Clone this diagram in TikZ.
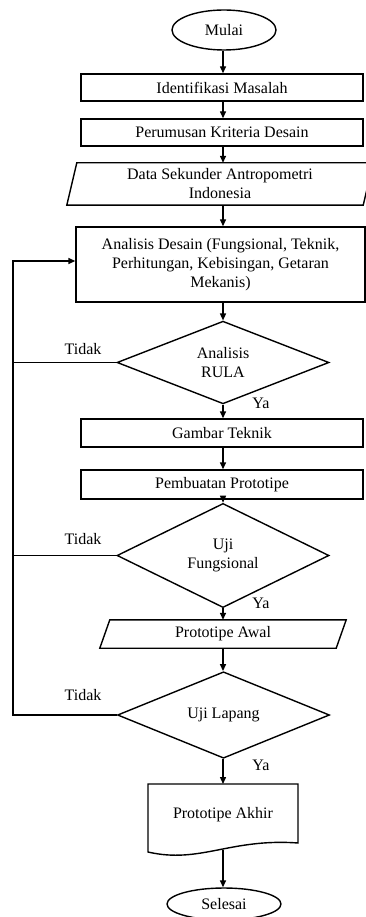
\documentclass[tikz,border=0pt]{standalone}
\usepackage{fontspec}
\setmainfont{Liberation Serif}
\usetikzlibrary{shapes.geometric,arrows.meta}
\begin{document}
\begin{tikzpicture}[x=1pt,y=-1pt,
  every node/.style={font=\fontsize{16}{19}\selectfont, inner sep=0pt},
  ln/.style={line width=1.4pt},
  arr/.style={ln,-{Triangle[length=7pt,width=6pt]}},
  box/.style={draw,line width=1.4pt,rectangle,minimum width=282pt,minimum height=27pt},
  dec/.style={draw,line width=1.4pt,diamond,minimum width=212pt,minimum height=66pt,align=center},
  term/.style={draw,line width=1.4pt,ellipse,minimum width=104pt,minimum height=40pt},
  para/.style={minimum height=28pt,align=center}
]
\useasboundingbox (0,0) rectangle (366,917);
\fill[white] (0,0) rectangle (366,917);

\node[term] (mulai) at (224,30) {Mulai};
\node[box] (ident) at (222,87.5) {Identifikasi Masalah};
\node[box] (rumus) at (222,132.5) {Perumusan Kriteria Desain};
\node[para,minimum width=296pt,minimum height=42pt] (data) at (220,184) {Data Sekunder Antropometri\\Indonesia};
\draw[ln] ([xshift=5pt]data.north west) -- ([xshift=5pt]data.north east) -- ([xshift=-5pt]data.south east) -- ([xshift=-5pt]data.south west) -- cycle;
\node[draw,line width=1.4pt,minimum width=289pt,minimum height=75pt,align=center] (anal) at (220.5,264.5) {Analisis Desain (Fungsional, Teknik,\\Perhitungan, Kebisingan, Getaran\\Mekanis)};
\node[dec] (rula) at (223,362.5) {Analisis\\RULA};
\node[box,minimum height=28pt] (gambar) at (222,433) {Gambar Teknik};
\node[box,minimum height=29pt] (buat) at (222,484.5) {Pembuatan Prototipe};
\node[dec] (fung) at (223,555.5) {Uji\\Fungsional};
\node[para,minimum width=236pt] (awal) at (223,634) {Prototipe Awal};
\draw[ln] ([xshift=5pt]awal.north west) -- ([xshift=5pt]awal.north east) -- ([xshift=-5pt]awal.south east) -- ([xshift=-5pt]awal.south west) -- cycle;
\node[dec,minimum height=70pt] (lapang) at (223.5,715) {Uji Lapang};
\node (akhir) at (223,815) {Prototipe Akhir};
\draw[ln] (148,784) -- (298,784) -- (298,843) .. controls (230,838) and (200,864) .. (148,852) -- cycle;
\coordinate (docb) at (223,849.5);
\node[term,minimum width=114pt,minimum height=32pt] (selesai) at (224,904) {Selesai};

\draw[arr] (mulai.south -| rula.south) -- (rula.south |- ident.north);
\draw[arr] (ident.south -| rula.south) -- (rula.south |- rumus.north);
\draw[arr] (rumus.south -| rula.south) -- (rula.south |- data.north);
\draw[arr] (data.south -| rula.south) -- (rula.south |- anal.north);
\draw[arr] (anal.south -| rula.south) -- (rula.north);
\draw[arr] (rula.south) -- (rula.south |- gambar.north);
\draw[arr] (gambar.south -| rula.south) -- (rula.south |- buat.north);
\draw[arr] (buat.south -| rula.south) -- (fung.north);
\draw[arr] (fung.south) -- (fung.south |- awal.north);
\draw[arr] (awal.south -| fung.south) -- (fung.south |- lapang.north);
\draw[arr] (fung.south |- lapang.south) -- (fung.south |- 0,784);
\draw[arr] (docb) -- (docb |- selesai.north);

\coordinate (loopx) at (13,0);
\coordinate (entry) at ([yshift=3.5pt]anal.west);
\draw[arr] (lapang.west) -- (lapang.west -| loopx) -- (loopx |- entry) -- (entry);
\draw[ln] (rula.west) -- (rula.west -| loopx);
\draw[ln] (fung.west) -- (fung.west -| loopx);

\node (t1) at (83,349) {Tidak};
\node (t2) at (83,539) {Tidak};
\node (t3) at (83,695) {Tidak};
\node (y1) at (261,403) {Ya};
\node (y2) at (261,603) {Ya};
\node (y3) at (261,765) {Ya};
\end{tikzpicture}
\end{document}
